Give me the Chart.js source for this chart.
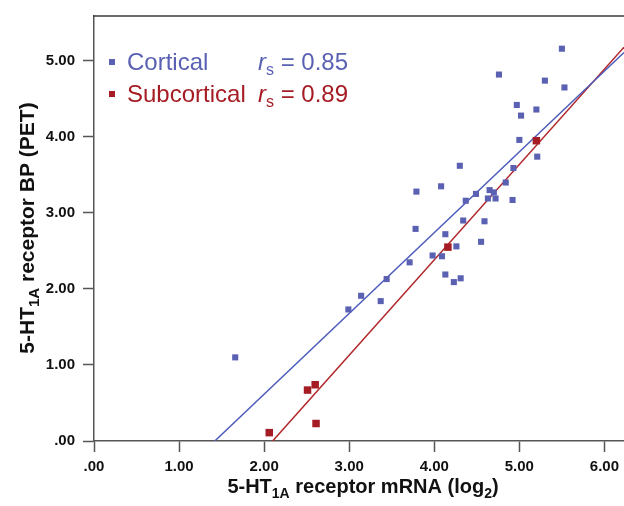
<!DOCTYPE html>
<html>
<head>
<meta charset="utf-8">
<script src="https://cdn.jsdelivr.net/npm/chart.js@4.4.1/dist/chart.umd.min.js"></script>
<style>
html,body{margin:0;padding:0;background:#fff;overflow:hidden;}
#wrap{width:624px;height:506px;position:relative;}
</style>
</head>
<body>
<div id="wrap"><canvas id="c" width="624" height="506"></canvas></div>
<script>
// ---- data ----
const xTicks = [0, 1, 2, 3, 4, 5, 6];
const yTicks = [0, 1, 2, 3, 4, 5];
const seriesNames = ['Cortical', 'Subcortical'];
const rsValues = ['0.85', '0.89'];

const corticalX = [5.50, 4.76, 5.30, 5.53, 4.97, 5.20, 5.02, 5.00, 5.21, 4.30, 4.93, 4.84, 4.08, 3.79, 4.49, 4.65, 4.70, 4.37, 4.63, 4.72, 4.92, 4.34, 4.59, 3.78, 4.13, 4.55, 4.26, 3.98, 4.09, 3.71, 4.13, 4.31, 4.23, 3.44, 3.14, 3.37, 2.99, 1.66];
const corticalY = [5.16, 4.82, 4.74, 4.65, 4.42, 4.36, 4.28, 3.96, 3.74, 3.62, 3.59, 3.40, 3.35, 3.28, 3.25, 3.30, 3.27, 3.16, 3.19, 3.19, 3.17, 2.90, 2.89, 2.79, 2.72, 2.62, 2.56, 2.44, 2.43, 2.35, 2.19, 2.14, 2.09, 2.13, 1.91, 1.84, 1.73, 1.10];

const subcorticalX = [2.06, 2.51, 2.60, 2.61, 4.16, 5.20];
const subcorticalY = [0.11, 0.67, 0.74, 0.23, 2.55, 3.95];

const corticalFitX = [1.42, 6.23];
const corticalFitY = [0.00, 5.11];
const subcorticalFitX = [2.10, 6.23];
const subcorticalFitY = [0.00, 5.18];

const xRange = [0, 6.23];
const yRange = [0, 5.59];

// ---- styles ----
const BLUE = '#5a61b3';
const BLUE_LINE = '#4e5cba';
const RED = '#a51c24';
const RED_LINE = '#b0262a';
const AXIS = '#555555';
const FAM = "'Liberation Sans', Arial, sans-serif";

const pts = (xs, ys) => xs.map((x, i) => ({x: x, y: ys[i]}));
const fmt = v => Number(v).toFixed(2).replace(/^0\./, '.');

function drawRich(ctx, parts, x, y, align) {
  let total = 0;
  parts.forEach(p => { ctx.font = p.font; total += ctx.measureText(p.t).width; });
  let cx = align === 'center' ? x - total / 2 : x;
  parts.forEach(p => {
    ctx.font = p.font;
    ctx.fillText(p.t, cx, y + (p.dy || 0));
    cx += ctx.measureText(p.t).width;
  });
}

const decor = {
  id: 'decor',
  afterDraw(chart) {
    const ctx = chart.ctx, a = chart.chartArea;
    ctx.save();
    // top frame line
    ctx.strokeStyle = '#3a3a3a';
    ctx.lineWidth = 1.5;
    ctx.beginPath();
    ctx.moveTo(a.left - 0.75, a.top);
    ctx.lineTo(chart.width, a.top);
    ctx.stroke();

    // axis titles
    ctx.fillStyle = '#111';
    ctx.textBaseline = 'alphabetic';
    ctx.textAlign = 'left';
    const B = s => 'bold ' + s + 'px ' + FAM;
    drawRich(ctx, [
      {t: '5-HT', font: B(20)}, {t: '1A', font: B(14), dy: 5},
      {t: ' receptor mRNA (log', font: B(20)}, {t: '2', font: B(14), dy: 5},
      {t: ')', font: B(20)}
    ], 363, 493, 'center');

    ctx.save();
    ctx.translate(34, 228);
    ctx.rotate(-Math.PI / 2);
    drawRich(ctx, [
      {t: '5-HT', font: B(21)}, {t: '1A', font: B(15), dy: 5},
      {t: ' receptor BP (PET)', font: B(21)}
    ], 0, 0, 'center');
    ctx.restore();

    // legend
    const ds = chart.data.datasets;
    const rows = [{ds: ds[0], y: 70}, {ds: ds[1], y: 102}];
    rows.forEach((r, i) => {
      const col = r.ds.backgroundColor;
      ctx.fillStyle = col;
      ctx.fillRect(109, r.y - 11, 6, 6);
      ctx.font = '24px ' + FAM;
      ctx.fillText(r.ds.label, 127, r.y);
      drawRich(ctx, [
        {t: 'r', font: 'italic 24px ' + FAM},
        {t: 's', font: '16px ' + FAM, dy: 5},
        {t: ' = ' + rsValues[i], font: '24px ' + FAM}
      ], 258, r.y, 'left');
    });
    ctx.restore();
  }
};

new Chart(document.getElementById('c'), {
  type: 'scatter',
  data: {
    datasets: [
      {label: seriesNames[0], data: pts(corticalX, corticalY), backgroundColor: BLUE, borderWidth: 0,
       pointStyle: 'rect', pointRadius: 4.3, order: 2},
      {label: seriesNames[1], data: pts(subcorticalX, subcorticalY), backgroundColor: RED, borderWidth: 0,
       pointStyle: 'rect', pointRadius: 5.3, order: 1},
      {label: 'cortical fit', type: 'line', data: pts(corticalFitX, corticalFitY), borderColor: BLUE_LINE,
       borderWidth: 1.5, pointRadius: 0, showLine: true, fill: false, order: 3},
      {label: 'subcortical fit', type: 'line', data: pts(subcorticalFitX, subcorticalFitY), borderColor: RED_LINE,
       borderWidth: 1.5, pointRadius: 0, showLine: true, fill: false, order: 4}
    ]
  },
  options: {
    responsive: false,
    animation: false,
    devicePixelRatio: 1,
    layout: {padding: {top: 16, right: 0, left: 0, bottom: 0}, autoPadding: false},
    plugins: {legend: {display: false}, tooltip: {enabled: false}},
    scales: {
      x: {
        type: 'linear', min: xRange[0], max: xRange[1],
        afterBuildTicks: s => { s.ticks = xTicks.map(v => ({value: v})); },
        afterFit: s => { s.height = 65; s.paddingLeft = 0; s.paddingRight = 0; },
        grid: {drawOnChartArea: false, drawTicks: true, tickLength: 11, tickWidth: 1.5, tickColor: AXIS},
        border: {color: AXIS, width: 1.5},
        ticks: {font: {family: FAM, size: 15, weight: 'bold'}, color: '#111', padding: 6,
                maxRotation: 0, autoSkip: false, callback: v => fmt(v)}
      },
      y: {
        type: 'linear', min: yRange[0], max: yRange[1],
        afterBuildTicks: s => { s.ticks = yTicks.map(v => ({value: v})); },
        afterFit: s => { s.width = 94; s.paddingTop = 0; s.paddingBottom = 0; },
        grid: {drawOnChartArea: false, drawTicks: true, tickLength: 11, tickWidth: 1.5, tickColor: AXIS},
        border: {color: AXIS, width: 1.5},
        ticks: {font: {family: FAM, size: 15, weight: 'bold'}, color: '#111', padding: 8,
                autoSkip: false, callback: v => fmt(v)}
      }
    }
  },
  plugins: [decor]
});
</script>
</body>
</html>
